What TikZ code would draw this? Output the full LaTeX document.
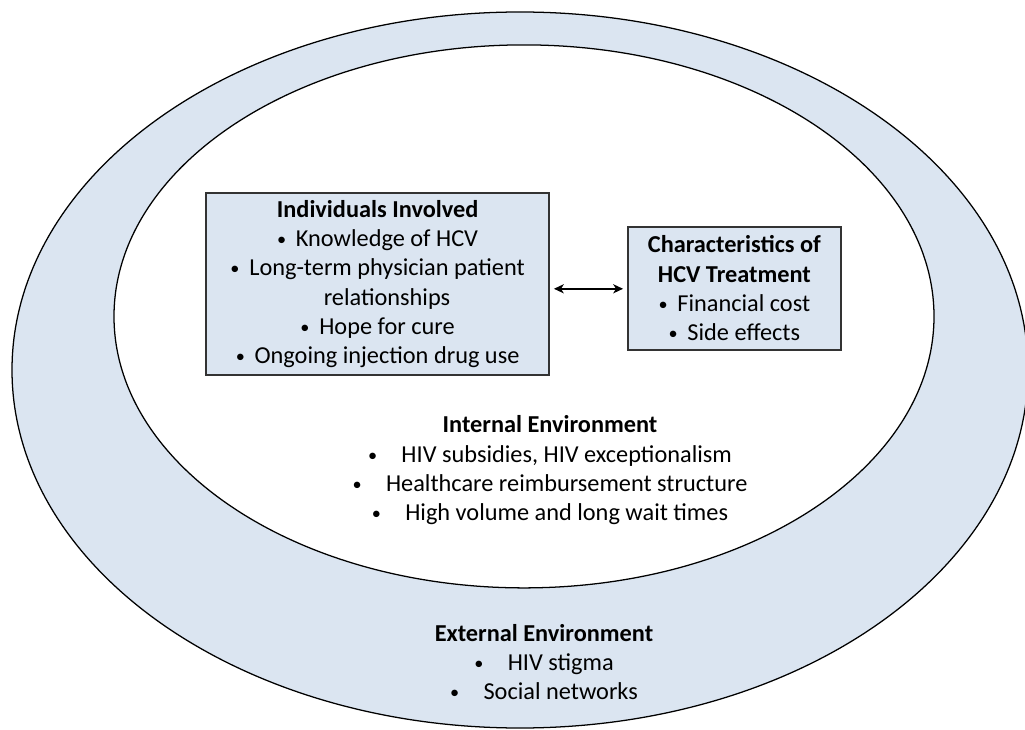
\documentclass[tikz,border=0pt]{standalone}
\usepackage{fontspec}
\setmainfont{Carlito}
\usetikzlibrary{shapes.geometric,arrows.meta}
\definecolor{ringblue}{HTML}{DBE5F1}
\newcommand{\bul}{\raisebox{0.1ex}{\scalebox{0.75}{•}}\hspace{0.4em}}
\newcommand{\wbul}{\raisebox{0.1ex}{\scalebox{0.75}{•}}\hspace{1em}}

\begin{document}
\begin{tikzpicture}[
        ring/.style={shape=ellipse,draw=black,line width=0.9pt,inner sep=0pt},
        box/.style={shape=rectangle,draw=black!80,line width=0.9pt,fill=ringblue,inner sep=0pt,align=center,font=\fontsize{17.3}{20.8}\selectfont},
        txt/.style={align=center,font=\fontsize{17.3}{20.8}\selectfont}
    ]
                \useasboundingbox (0,0) rectangle (25.625,-18.25);

                \node[ring,fill=ringblue,minimum width=25.4cm,minimum height=17.9cm] (outer) at (13.0,-9.25) {};
                \node[ring,fill=white,minimum width=20.5cm,minimum height=13.575cm] (inner) at (13.1,-7.91) {};

                \node[box,minimum width=8.575cm,minimum height=4.55cm] (indiv) at (9.44,-7.10) {\textbf{Individuals Involved}\\ \bul Knowledge of HCV\\ \bul Long-term physician patient\\ \phantom{\bul}relationships\\ \bul Hope for cure\\ \bul Ongoing injection drug use};
                \node[box,minimum width=5.325cm,minimum height=3.075cm] (treat) at (18.36,-7.21) {\textbf{Characteristics of}\\ \textbf{HCV Treatment}\\ \bul Financial cost\\ \bul Side effects};

                \node[txt] (intenv) at (13.75,-11.76) {\textbf{Internal Environment}\\ \wbul HIV subsidies, HIV exceptionalism\\ \wbul Healthcare reimbursement structure\\ \wbul High volume and long wait times};
                \node[txt] (extenv) at (13.6,-16.55) {\textbf{External Environment}\\ \wbul HIV stigma\\ \wbul Social networks};

                \path [{Stealth[length=7pt,width=6.5pt,inset=2pt]}-{Stealth[length=7pt,width=6.5pt,inset=2pt]},line width=1.1pt,shorten <=3pt,shorten >=3pt] (indiv.east |- 0,-7.22) edge (treat.west |- 0,-7.22);
            \end{tikzpicture}
\end{document}
